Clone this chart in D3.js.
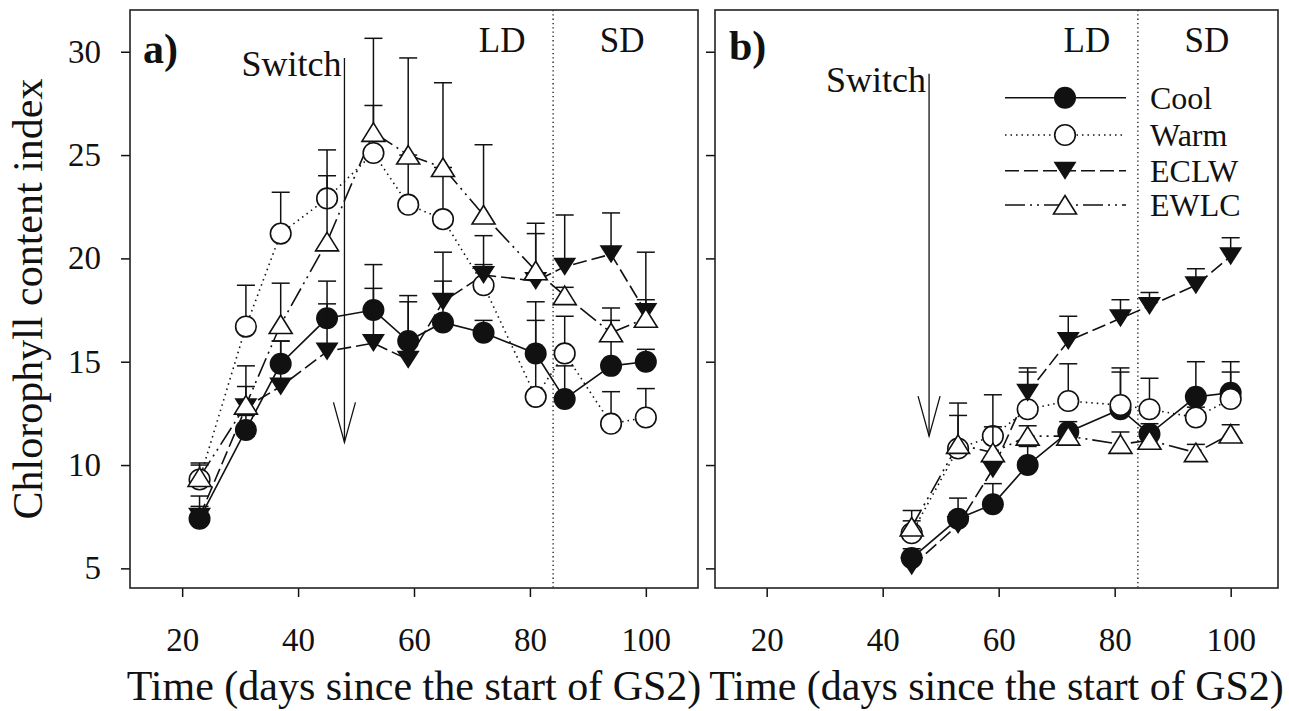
<!DOCTYPE html>
<html>
<head>
<meta charset="utf-8">
<script src="https://cdn.jsdelivr.net/npm/d3@7"></script>
<style>
  html, body { margin: 0; padding: 0; background: #fff; }
  svg { display: block; }
  text { font-family: "Liberation Serif", "Times New Roman", serif; fill: #111; }
</style>
</head>
<body>
<svg id="chart" width="1289" height="711"></svg>
<script>
// ---------------- data ----------------
const seriesNames = ["Cool", "Warm", "ECLW", "EWLC"];

// Panel a) days since start of GS2
const daysA = [23, 31, 37, 45, 53, 59, 65, 72, 81, 86, 94, 100];
const coolA    = [7.4, 11.7, 14.9, 17.1, 17.5, 16.0, 16.9, 16.4, 15.4, 13.2, 14.8, 15.0];
const coolAErr = [1.1, 0.7, 1.1, 1.8, 2.2, 2.2, 2.0, 0.6, 2.5, 1.6, 2.2, 0.6];
const warmA    = [9.3, 16.7, 21.2, 22.9, 25.1, 22.6, 21.9, 18.7, 13.3, 15.4, 12.0, 12.3];
const warmAErr = [0.7, 2.0, 2.0, 2.35, 2.3, 2.4, 2.5, 1.0, 3.7, 1.8, 1.55, 1.4];
const eclwA    = [7.5, 12.8, 13.8, 15.5, 15.9, 15.1, 17.9, 19.2, 18.9, 19.6, 20.2, 17.4];
const eclwAErr = [0.5, 1.0, 2.2, 2.3, 2.65, 2.8, 2.4, 1.9, 2.3, 2.5, 2.0, 2.9];
const ewlcA    = [9.4, 12.9, 16.8, 20.8, 26.1, 25.0, 24.4, 22.1, 19.4, 18.2, 16.4, 17.1];
const ewlcAErr = [0.7, 1.9, 2.0, 3.2, 4.55, 4.7, 4.1, 3.4, 2.3, 0.4, 1.2, 0.9];

// Panel b)
const daysB = [45, 53, 59, 65, 72, 81, 86, 94, 100];
const coolB    = [5.5, 7.4, 8.1, 10.0, 11.6, 12.7, 11.5, 13.3, 13.5];
const coolBErr = [0.45, 1.0, 1.0, 0.9, 0.5, 1.8, 0.5, 1.7, 1.5];
const warmB    = [6.7, 10.8, 11.4, 12.7, 13.1, 12.9, 12.7, 12.3, 13.2];
const warmBErr = [0.6, 1.6, 2.0, 1.8, 1.8, 1.8, 1.5, 0.5, 1.3];
const eclwB    = [5.1, 7.1, 9.8, 13.5, 16.0, 17.1, 17.7, 18.7, 20.1];
const eclwBErr = [0.4, 0.6, 0.6, 1.2, 1.2, 0.9, 0.65, 0.8, 0.9];
const ewlcB    = [7.0, 11.0, 10.6, 11.4, 11.4, 11.0, 11.2, 10.6, 11.5];
const ewlcBErr = [0.8, 2.0, 1.25, 0.5, 0.4, 0.6, 0.3, 0.4, 0.45];

const xTicks = [20, 40, 60, 80, 100];
const yTicks = [5, 10, 15, 20, 25, 30];
const panelLabels = ["a)", "b)"];
const switchDay = 48;
const photoperiodDay = 84;
const xTitle = "Time (days since the start of GS2)";
const yTitle = "Chlorophyll content index";

// ---------------- layout ----------------
const svg = d3.select("#chart");
const INK = "#111";
const yScale = d3.scaleLinear().domain([4.05, 32.02]).range([588, 10]);

const panels = [
  { label: panelLabels[0], days: daysA, vals: [coolA, warmA, eclwA, ewlcA], errs: [coolAErr, warmAErr, eclwAErr, ewlcAErr],
    x: d3.scaleLinear().domain([11, 109]).range([130, 698]),
    labelPos: [143, 63], switchTop: 29.7, switchBot: 11.1, showYLabels: true, legend: false },
  { label: panelLabels[1], days: daysB, vals: [coolB, warmB, eclwB, ewlcB], errs: [coolBErr, warmBErr, eclwBErr, ewlcBErr],
    x: d3.scaleLinear().domain([11.09, 108.16]).range([715, 1278]),
    labelPos: [729, 60], switchTop: 28.94, switchBot: 11.4, showYLabels: false, legend: true }
];

const styles = [
  { dash: null,                 marker: "circleFilled" },
  { dash: "1.5,4",              marker: "circleOpen" },
  { dash: "14,5",               marker: "triDown" },
  { dash: "20,5,2,5,2,5",       marker: "triUp" }
];

function drawMarker(g, type, cx, cy) {
  if (type === "circleFilled") {
    g.append("circle").attr("cx", cx).attr("cy", cy).attr("r", 11).attr("fill", INK);
  } else if (type === "circleOpen") {
    g.append("circle").attr("cx", cx).attr("cy", cy).attr("r", 10.3)
      .attr("fill", "#fff").attr("stroke", INK).attr("stroke-width", 1.6);
  } else if (type === "triDown") {
    g.append("path").attr("d", `M${cx-11.5},${cy-9}L${cx+11.5},${cy-9}L${cx},${cy+9}Z`).attr("fill", INK);
  } else {
    g.append("path").attr("d", `M${cx},${cy-9.5}L${cx+11.5},${cy+9}L${cx-11.5},${cy+9}Z`)
      .attr("fill", "#fff").attr("stroke", INK).attr("stroke-width", 1.6).attr("stroke-linejoin", "miter");
  }
}

panels.forEach(p => {
  const x = p.x;
  const [x0, x1] = x.range();
  const [yb, yt] = yScale.range();
  const g = svg.append("g");

  // photoperiod divider (dotted)
  g.append("line").attr("x1", x(photoperiodDay)).attr("x2", x(photoperiodDay))
    .attr("y1", yt).attr("y2", yb).attr("stroke", INK).attr("stroke-width", 1.3)
    .attr("stroke-dasharray", "1.3,3");

  // axes
  const yAx = g.append("g").attr("transform", `translate(${x0},0)`)
    .call(d3.axisLeft(yScale).tickValues(yTicks).tickSize(9).tickPadding(20));
  yAx.select(".domain").remove();
  yAx.selectAll("line").attr("stroke", INK).attr("stroke-width", 1.5);
  yAx.selectAll("text").attr("font-size", 33).attr("fill", INK)
    .attr("font-family", "Liberation Serif, Times New Roman, serif");
  if (!p.showYLabels) yAx.selectAll("text").remove();

  const xAx = g.append("g").attr("transform", `translate(0,${yb})`)
    .call(d3.axisBottom(x).tickValues(xTicks).tickSize(9).tickPadding(31));
  xAx.select(".domain").remove();
  xAx.selectAll("line").attr("stroke", INK).attr("stroke-width", 1.5);
  xAx.selectAll("text").attr("font-size", 33).attr("fill", INK)
    .attr("font-family", "Liberation Serif, Times New Roman, serif");

  // frame
  g.append("rect").attr("x", x0).attr("y", yt).attr("width", x1 - x0).attr("height", yb - yt)
    .attr("fill", "none").attr("stroke", "#222").attr("stroke-width", 1.6);

  // x title
  g.append("text").attr("x", (x0 + x1) / 2).attr("y", 700).attr("text-anchor", "middle")
    .attr("font-size", 42).text(xTitle);

  // panel label
  g.append("text").attr("x", p.labelPos[0]).attr("y", p.labelPos[1])
    .attr("font-size", 42).attr("font-weight", "bold").text(p.label);

  // LD / SD
  g.append("text").attr("x", x(75.2)).attr("y", 51.5).attr("text-anchor", "middle").attr("font-size", 35).text("LD");
  g.append("text").attr("x", x(95.9)).attr("y", 51.5).attr("text-anchor", "middle").attr("font-size", 35).text("SD");

  // Switch arrow
  const sx = x(switchDay), sTop = yScale(p.switchTop), sBot = yScale(p.switchBot);
  g.append("line").attr("x1", sx).attr("x2", sx).attr("y1", sTop).attr("y2", sBot)
    .attr("stroke", INK).attr("stroke-width", 1.3);
  g.append("path").attr("d", `M${sx-11},${sBot-40}L${sx},${sBot}L${sx+11},${sBot-40}`)
    .attr("fill", "none").attr("stroke", INK).attr("stroke-width", 1.3);
  g.append("text").attr("x", sx - 3).attr("y", sTop + 18).attr("text-anchor", "end")
    .attr("font-size", 36).text("Switch");

  // series lines
  const line = d3.line().x(d => x(d[0])).y(d => yScale(d[1]));
  p.vals.forEach((vals, si) => {
    const pts = p.days.map((d, i) => [d, vals[i]]);
    g.append("path").attr("d", line(pts)).attr("fill", "none").attr("stroke", INK)
      .attr("stroke-width", 1.6).attr("stroke-dasharray", styles[si].dash);
  });

  // error bars + markers
  p.vals.forEach((vals, si) => {
    const errs = p.errs[si];
    const sg = g.append("g");
    p.days.forEach((d, i) => {
      const cx = x(d), cy = yScale(vals[i]), top = yScale(vals[i] + errs[i]);
      sg.append("line").attr("x1", cx).attr("x2", cx).attr("y1", cy).attr("y2", top)
        .attr("stroke", INK).attr("stroke-width", 1.5);
      sg.append("line").attr("x1", cx - 9).attr("x2", cx + 9).attr("y1", top).attr("y2", top)
        .attr("stroke", INK).attr("stroke-width", 1.5);
    });
    p.days.forEach((d, i) => drawMarker(sg, styles[si].marker, x(d), yScale(vals[i])));
  });

  // legend
  if (p.legend) {
    const rows = [97.7, 135, 170.7, 205];
    seriesNames.forEach((name, si) => {
      const lg = g.append("g");
      lg.append("line").attr("x1", 1005).attr("x2", 1126).attr("y1", rows[si]).attr("y2", rows[si])
        .attr("stroke", INK).attr("stroke-width", 1.6).attr("stroke-dasharray", styles[si].dash);
      drawMarker(lg, styles[si].marker, 1065, rows[si]);
      lg.append("text").attr("x", 1150).attr("y", rows[si] + 11).attr("font-size", 32).text(name);
    });
  }
});

// y title
svg.append("text").attr("transform", "translate(42,299) rotate(-90)").attr("text-anchor", "middle")
  .attr("font-size", 42).text(yTitle);
</script>
</body>
</html>
